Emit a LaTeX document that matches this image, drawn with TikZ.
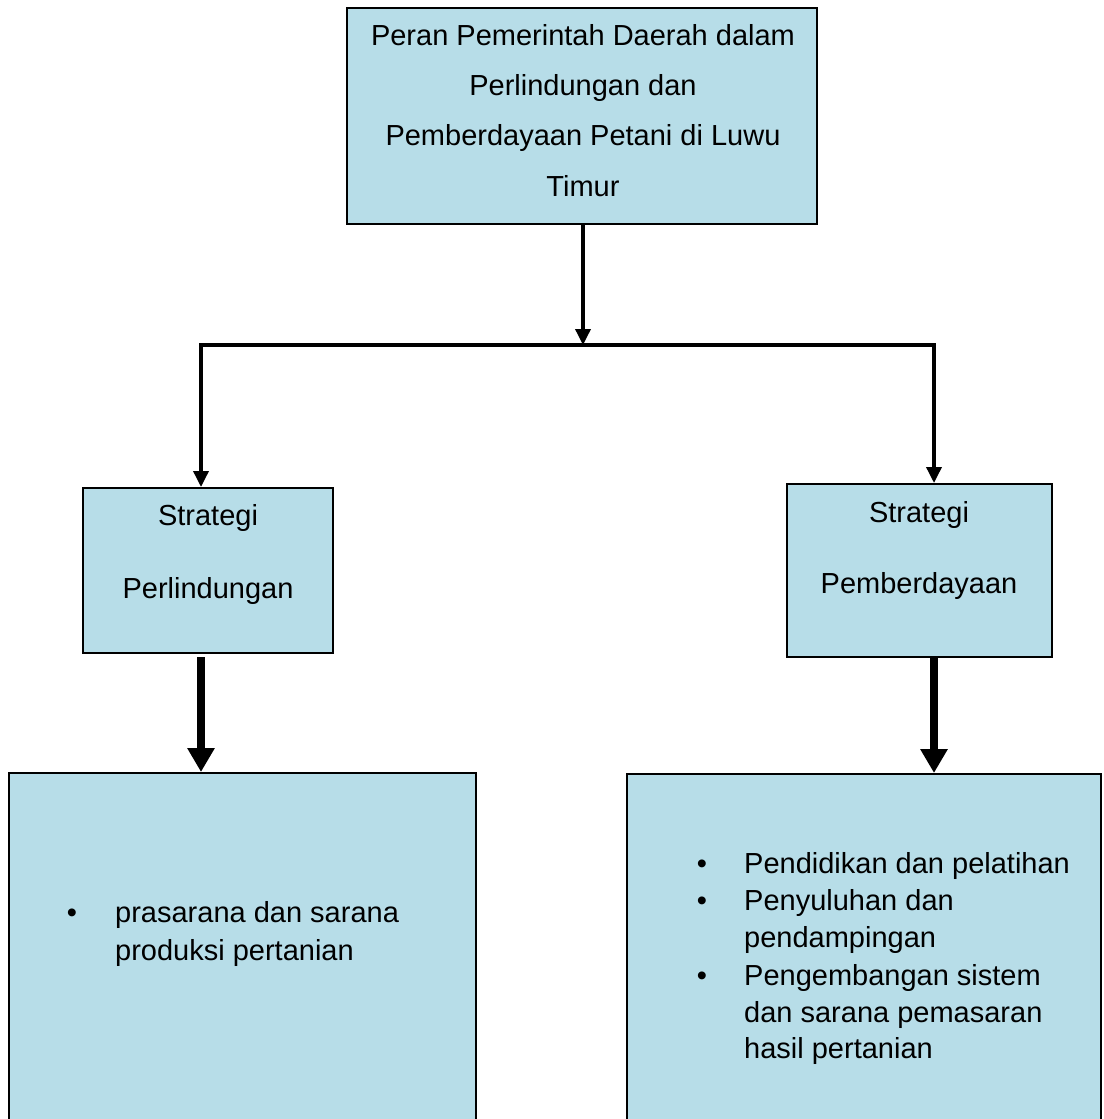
\documentclass[tikz,border=0pt]{standalone}
\usepackage{fontspec}
\setmainfont{Liberation Sans}
\usetikzlibrary{arrows.meta}
\definecolor{boxblue}{RGB}{183,221,232}
\begin{document}
\begin{tikzpicture}[x=1pt,y=-1pt,
  box/.style={draw=black,line width=2.2pt,fill=boxblue,inner sep=0pt},
  txt/.style={anchor=base,inner sep=0pt,font=\fontsize{29}{34}\selectfont},
  ltxt/.style={anchor=base west,inner sep=0pt,font=\fontsize{29}{34}\selectfont},
  thin conn/.style={line width=3.5pt,-{Triangle[width=15pt,length=16pt]}},
  plain conn/.style={line width=3.5pt},
  thick conn/.style={line width=7.5pt,-{Triangle[width=26pt,length=24pt]}}]
\useasboundingbox (0,0) rectangle (1103,1119);
\clip (0,0) rectangle (1103,1119);
% boxes
\path[box] (347,8) rectangle (817,224);
\coordinate (topS) at (583,224);
\path[box] (83,488) rectangle (333,653);
\path[box] (787,484) rectangle (1052,657);
\path[box] (9,773) rectangle (476,1140);
\path[box] (627,774) rectangle (1101,1140);
% top texts
\node[txt] (t1) at (583,45) {Peran Pemerintah Daerah dalam};
\node[txt] (t2) at (583,95) {Perlindungan dan};
\node[txt] (t3) at (583,145) {Pemberdayaan Petani di Luwu};
\node[txt] (t4) at (583,196) {Timur};
% strategy texts
\node[txt] (l1) at (208,525) {Strategi};
\node[txt] (l2) at (208,598) {Perlindungan};
\node[txt] (r1) at (919,522) {Strategi};
\node[txt] (r2) at (919,593) {Pemberdayaan};
% left list
\node[txt] (lb) at (72,922) {•};
\node[ltxt] (la1) at (115,922) {prasarana dan sarana};
\node[ltxt] (la2) at (115,960) {produksi pertanian};
% right list
\node[txt] (rb1) at (702,873) {•};
\node[ltxt] (ra1) at (744,873) {Pendidikan dan pelatihan};
\node[txt] (rb2) at (702,910) {•};
\node[ltxt] (ra2) at (744,910) {Penyuluhan dan};
\node[ltxt] (ra3) at (744,947) {pendampingan};
\node[txt] (rb3) at (702,985) {•};
\node[ltxt] (ra4) at (744,985) {Pengembangan sistem};
\node[ltxt] (ra5) at (744,1022) {dan sarana pemasaran};
\node[ltxt] (ra6) at (744,1058) {hasil pertanian};
% connector coordinates
\coordinate (jc) at (583,345);
\coordinate (jl) at (201,345);
\coordinate (jr) at (934,345);
\coordinate (lN) at (201,487);
\coordinate (rN) at (934,483);
\coordinate (lS) at (201,657);
\coordinate (rS) at (934,658);
\coordinate (blN) at (201,772);
\coordinate (brN) at (934,773);
% connectors
\draw[thin conn] (topS) -- (jc);
\draw[plain conn,line join=miter] (lN) ++(0,-20) -- (jl) -- (jr) -- ++(0,118);
\draw[thin conn] (jl) -- (lN);
\draw[thin conn] (jr) -- (rN);
\draw[thick conn] (lS) -- (blN);
\draw[thick conn] (rS) -- (brN);
\end{tikzpicture}
\end{document}
